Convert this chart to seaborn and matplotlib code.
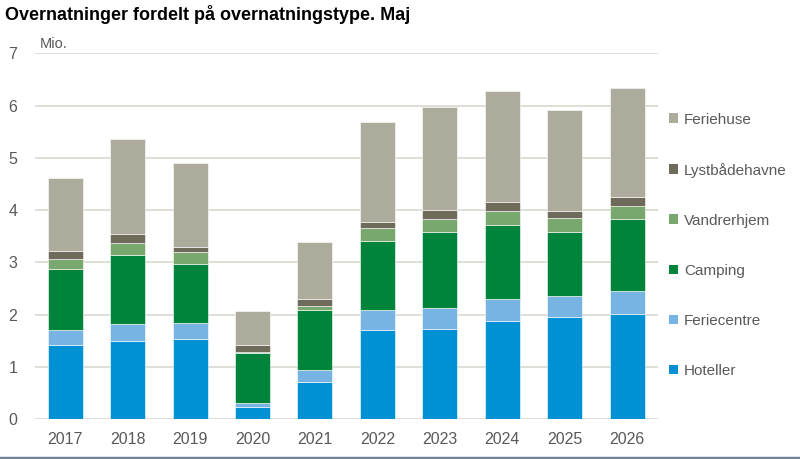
import numpy as np
import pandas as pd
import seaborn as sns
import matplotlib.pyplot as plt
from matplotlib.patches import Patch
from matplotlib.lines import Line2D

years = ["2017", "2018", "2019", "2020", "2021", "2022", "2023", "2024", "2025", "2026"]

hoteller = [1.42, 1.49, 1.54, 0.23, 0.71, 1.71, 1.73, 1.88, 1.95, 2.01]
feriecentre = [0.28, 0.32, 0.30, 0.08, 0.22, 0.37, 0.39, 0.42, 0.40, 0.45]
camping = [1.18, 1.32, 1.13, 0.95, 1.16, 1.32, 1.45, 1.41, 1.22, 1.36]
vandrerhjem = [0.19, 0.23, 0.22, 0.03, 0.07, 0.25, 0.25, 0.27, 0.27, 0.25]
lystbaadehavne = [0.14, 0.18, 0.11, 0.12, 0.13, 0.13, 0.19, 0.18, 0.14, 0.18]
feriehuse = [1.41, 1.81, 1.60, 0.66, 1.09, 1.91, 1.97, 2.12, 1.93, 2.09]

series = ["Hoteller", "Feriecentre", "Camping", "Vandrerhjem", "Lystbådehavne", "Feriehuse"]
colors = ["#0090D4", "#78B4E3", "#00833A", "#79A86F", "#6E6B5A", "#ADAB9C"]

df = pd.DataFrame({
    "Hoteller": hoteller,
    "Feriecentre": feriecentre,
    "Camping": camping,
    "Vandrerhjem": vandrerhjem,
    "Lystbådehavne": lystbaadehavne,
    "Feriehuse": feriehuse,
}, index=years)

sns.set_style("white")
plt.rcParams['font.family'] = ['Liberation Sans', 'DejaVu Sans']

txt = "#595959"
fig = plt.figure(figsize=(8, 4.59), dpi=100)
ax = fig.add_axes([0.044, 0.087, 0.779, 0.797])

bottom = np.zeros(len(years))
for name, col in zip(series, colors):
    sns.barplot(x=years, y=df[name].values, bottom=bottom, color=col, width=0.56,
                edgecolor="white", linewidth=0.4, ax=ax, saturation=1)
    bottom += df[name].values

ax.set_ylim(0, 7)
ax.set_xlim(-0.48, 9.5)
ax.set_yticks(range(0, 8))
ax.yaxis.grid(True, color="#D9D8D0", linewidth=1.2)
ax.set_axisbelow(True)
for s in ax.spines.values():
    s.set_visible(False)
ax.tick_params(axis="both", length=0, labelsize=11.5, colors=txt)
ax.tick_params(axis="y", pad=13)
ax.tick_params(axis="x", pad=9)
ax.set_xlabel("")
ax.set_ylabel("")

ax.text(0.008, 7.05, "Mio.", fontsize=10.5, color=txt, ha="left", va="bottom",
        transform=ax.get_yaxis_transform())

fig.text(0.006, 0.968, "Overnatninger fordelt på overnatningstype. Maj", fontsize=13,
         fontweight="bold", color="black", ha="left", va="center")

handles = [Patch(facecolor=c, edgecolor="none") for c in colors][::-1]
leg = fig.legend(handles, series[::-1], loc="upper left", bbox_to_anchor=(0.829, 0.768),
                 frameon=False, fontsize=11, labelcolor=txt, handlelength=0.6,
                 handleheight=0.6, handletextpad=0.35, labelspacing=2.36,
                 borderaxespad=0)

fig.add_artist(Line2D([0, 1], [0.003, 0.003], transform=fig.transFigure,
                      color="#6F8499", linewidth=2.5))

fig.savefig("out.png", dpi=100)
